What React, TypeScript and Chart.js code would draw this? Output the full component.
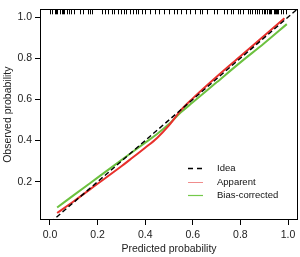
import React, { useEffect, useRef } from "react";
import { Chart, registerables } from "chart.js";

Chart.register(...registerables);

// ---- data ----
const xTickValues = [0, 0.2, 0.4, 0.6, 0.8, 1.0];
const yTickValues = [0.2, 0.4, 0.6, 0.8, 1.0];

const idealX = [-0.1, 1.1];
const idealY = [-0.1, 1.1];

const apparentX = [0.03, 0.1, 0.2, 0.3, 0.35, 0.4, 0.45, 0.5, 0.55, 0.6, 0.7, 0.8, 0.9, 0.985];
const apparentY = [0.048, 0.105, 0.19, 0.275, 0.32, 0.365, 0.413, 0.474, 0.548, 0.605, 0.71, 0.81, 0.91, 0.995];

const biasX = [0.03, 0.1, 0.2, 0.3, 0.4, 0.45, 0.5, 0.55, 0.6, 0.7, 0.8, 0.9, 0.995];
const biasY = [0.075, 0.135, 0.22, 0.305, 0.39, 0.432, 0.48, 0.537, 0.586, 0.683, 0.78, 0.873, 0.966];

const rugValues = [
  0.0, 0.01, 0.02, 0.025, 0.03, 0.04, 0.05, 0.055, 0.06, 0.07, 0.08, 0.09, 0.1,
  0.128, 0.137, 0.158, 0.166, 0.176,
  0.22, 0.23, 0.245, 0.26, 0.27, 0.285, 0.3, 0.31, 0.32, 0.335, 0.35, 0.36, 0.37,
  0.385, 0.4, 0.42, 0.44, 0.46, 0.48, 0.5, 0.52, 0.535, 0.55, 0.57, 0.59, 0.61,
  0.63, 0.64, 0.66, 0.69, 0.7, 0.73, 0.745, 0.76, 0.77, 0.79, 0.8, 0.81, 0.83,
  0.84, 0.85, 0.86, 0.87, 0.88, 0.89, 0.9, 0.905, 0.91, 0.92, 0.925, 0.93, 0.94,
  0.945, 0.95, 0.955, 0.96, 0.97, 0.98, 0.99,
];

const legendLabels = ["Idea", "Apparent", "Bias-corrected"];
const xTitle = "Predicted probability";
const yTitle = "Observed probability";

const FONT = "'Liberation Sans', Arial, Helvetica, sans-serif";
const RED = "#e8302c";
const GREEN = "#6cc13f";

const toPts = (xs: number[], ys: number[]) => xs.map((x, i) => ({ x, y: ys[i] }));

const boxRugLegendPlugin = {
  id: "boxRugLegend",
  afterDatasetsDraw(chart: any) {
    const { ctx, chartArea } = chart;
    const { left, top, right, bottom } = chartArea;
    const xs = chart.scales.x;
    ctx.save();
    // rug
    ctx.strokeStyle = "#000";
    ctx.lineWidth = 1;
    ctx.beginPath();
    rugValues.forEach((v) => {
      const px = Math.round(xs.getPixelForValue(v)) + 0.5;
      ctx.moveTo(px, top);
      ctx.lineTo(px, top + 5);
    });
    ctx.stroke();
    // box
    ctx.strokeRect(Math.round(left) + 0.5, Math.round(top) + 0.5, Math.round(right - left) - 1, Math.round(bottom - top) - 1);
    // legend
    const lx0 = left + 148;
    const lx1 = left + 163;
    const tx = left + 177;
    const rowY = [top + 159, top + 172.5, top + 186];
    const styles = [
      { color: "#000", dash: [5, 4], width: 1.5 },
      { color: "#f08c8c", dash: [], width: 1 },
      { color: "#74c94a", dash: [], width: 1.2 },
    ];
    ctx.font = `9.5px ${FONT}`;
    ctx.textBaseline = "middle";
    ctx.textAlign = "left";
    legendLabels.forEach((lab, i) => {
      const y = Math.round(rowY[i]) + 0.5;
      ctx.beginPath();
      ctx.setLineDash(styles[i].dash);
      ctx.strokeStyle = styles[i].color;
      ctx.lineWidth = styles[i].width;
      ctx.moveTo(lx0, y);
      ctx.lineTo(lx1, y);
      ctx.stroke();
      ctx.setLineDash([]);
      ctx.fillStyle = "#111";
      ctx.fillText(lab, tx, y);
    });
    ctx.restore();
  },
};

export default function App() {
  const ref = useRef<HTMLCanvasElement | null>(null);
  useEffect(() => {
    if (!ref.current) return;
    const chart = new Chart(ref.current, {
      type: "scatter",
      data: {
        datasets: [
          {
            label: legendLabels[0],
            data: toPts(idealX, idealY),
            showLine: true,
            borderColor: "#000",
            borderWidth: 1.4,
            borderDash: [5, 3],
            pointRadius: 0,
            order: 0,
          },
          {
            label: legendLabels[1],
            data: toPts(apparentX, apparentY),
            showLine: true,
            borderColor: RED,
            borderWidth: 2,
            pointRadius: 0,
            cubicInterpolationMode: "monotone",
            order: 1,
          },
          {
            label: legendLabels[2],
            data: toPts(biasX, biasY),
            showLine: true,
            borderColor: GREEN,
            borderWidth: 2,
            pointRadius: 0,
            cubicInterpolationMode: "monotone",
            order: 2,
          },
        ],
      } as any,
      options: {
        responsive: false,
        animation: false,
        devicePixelRatio: 1,
        layout: { padding: { top: 3, right: 2, left: 0, bottom: 0 } },
        plugins: { legend: { display: false }, tooltip: { enabled: false } },
        scales: {
          x: {
            type: "linear",
            min: -0.042,
            max: 1.042,
            afterBuildTicks: (s: any) => {
              s.ticks = xTickValues.map((v) => ({ value: v }));
            },
            afterFit: (s: any) => {
              s.height = 37;
            },
            ticks: {
              color: "#222",
              font: { family: FONT, size: 10.5 },
              padding: 4,
              maxRotation: 0,
              callback: (v: any) => Number(v).toFixed(1),
            },
            grid: { display: true, drawOnChartArea: false, drawTicks: true, tickLength: 5, color: "#000" },
            border: { display: false },
            title: {
              display: true,
              text: xTitle,
              color: "#222",
              font: { family: FONT, size: 10.5 },
              padding: { top: 0, bottom: 2 },
            },
          },
          y: {
            type: "linear",
            min: 0.014,
            max: 1.038,
            afterBuildTicks: (s: any) => {
              s.ticks = yTickValues.map((v) => ({ value: v }));
            },
            afterFit: (s: any) => {
              s.width = 40;
            },
            ticks: {
              color: "#222",
              font: { family: FONT, size: 10.5 },
              padding: 3,
              callback: (v: any) => Number(v).toFixed(1),
            },
            grid: { display: true, drawOnChartArea: false, drawTicks: true, tickLength: 5, color: "#000" },
            border: { display: false },
            title: {
              display: true,
              text: yTitle,
              color: "#222",
              font: { family: FONT, size: 10.5 },
              padding: { top: 2, bottom: 0 },
            },
          },
        },
      } as any,
      plugins: [boxRugLegendPlugin],
    });
    return () => chart.destroy();
  }, []);
  return (
    <div style={{ position: "fixed", left: 0, top: 0, width: 300, height: 257, background: "#fff" }}>
      <canvas ref={ref} width={300} height={257} />
    </div>
  );
}
